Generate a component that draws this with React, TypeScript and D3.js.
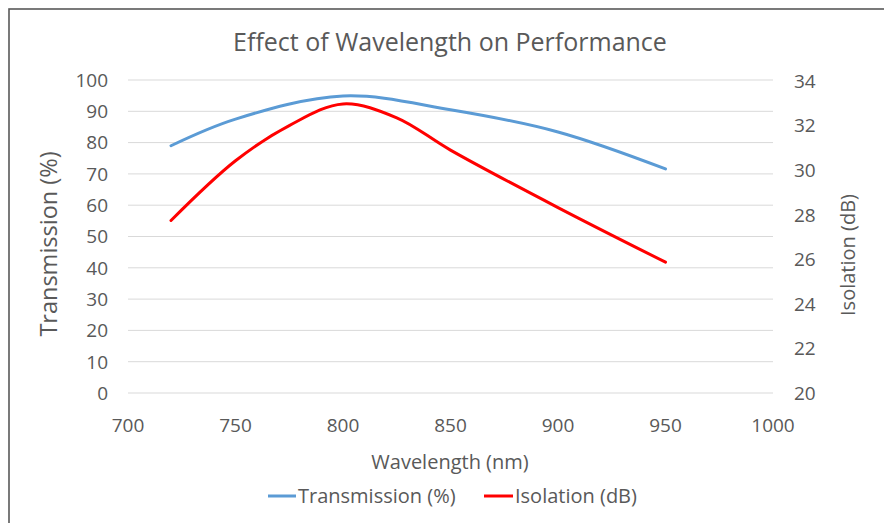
import React from "react";
import * as d3 from "d3";

const transWavelengths = [720, 750, 800, 850, 900, 950];
const transmission = [79.0, 87.5, 94.9, 90.5, 83.4, 71.6];
const isoWavelengths = [720, 750, 775, 800, 825, 850, 900, 950];
const isolation = [27.74, 30.42, 32.0, 32.97, 32.35, 30.9, 28.32, 25.87];

const xTicks = [700, 750, 800, 850, 900, 950, 1000];
const leftTicks = [0, 10, 20, 30, 40, 50, 60, 70, 80, 90, 100];
const rightTicks = [20, 22, 24, 26, 28, 30, 32, 34];

const TITLE = "Effect of Wavelength on Performance";
const X_LABEL = "Wavelength (nm)";
const Y_LEFT_LABEL = "Transmission (%)";
const Y_RIGHT_LABEL = "Isolation (dB)";
const SERIES_NAMES = ["Transmission (%)", "Isolation (dB)"];

const W = 884;
const H = 523;
const FONT = "'Open Sans', 'Noto Sans', sans-serif";
const TEXT = "#595959";
const BLUE = "#5B9BD5";
const RED = "#FF0000";

export default function App() {
  const x = d3.scaleLinear().domain([700, 1000]).range([128, 773]);
  const yL = d3.scaleLinear().domain([0, 100]).range([393, 80]);
  const yR = d3.scaleLinear().domain([20, 34]).range([393, 81]);

  const tData = transWavelengths.map((w, i) => [w, transmission[i]] as [number, number]);
  const iData = isoWavelengths.map((w, i) => [w, isolation[i]] as [number, number]);

  const lineL = d3
    .line<[number, number]>()
    .x((d) => x(d[0]))
    .y((d) => yL(d[1]))
    .curve(d3.curveCatmullRom.alpha(0.5));
  const lineR = d3
    .line<[number, number]>()
    .x((d) => x(d[0]))
    .y((d) => yR(d[1]))
    .curve(d3.curveCatmullRom.alpha(0.5));

  return (
    <svg
      width={W}
      height={H}
      style={{ position: "absolute", left: 0, top: 0, background: "#fff" }}
      fontFamily={FONT}
    >
      <rect x={0} y={0} width={W} height={H} fill="#fff" />
      <rect x={9} y={9} width={W + 20} height={H + 20} fill="none" stroke="#595959" strokeWidth={1.6} />
      <text x={450} y={51} textAnchor="middle" fontSize={25} fill={TEXT}>
        {TITLE}
      </text>
      {leftTicks.map((t) => (
        <g key={"l" + t}>
          <line x1={x(700)} x2={x(1000)} y1={yL(t)} y2={yL(t)} stroke="#d9d9d9" strokeWidth={1} />
          <text x={108} y={yL(t)} dy="0.36em" textAnchor="end" fontSize={19} fill={TEXT}>
            {t}
          </text>
        </g>
      ))}
      {rightTicks.map((t) => (
        <text key={"r" + t} x={794} y={yR(t)} dy="0.36em" textAnchor="start" fontSize={19} fill={TEXT}>
          {t}
        </text>
      ))}
      {xTicks.map((t) => (
        <text key={"x" + t} x={x(t)} y={432} textAnchor="middle" fontSize={19} fill={TEXT}>
          {t}
        </text>
      ))}
      <path d={lineL(tData) || ""} fill="none" stroke={BLUE} strokeWidth={3} strokeLinecap="round" />
      <path d={lineR(iData) || ""} fill="none" stroke={RED} strokeWidth={3} strokeLinecap="round" />
      <text x={450} y={469} textAnchor="middle" fontSize={20} fill={TEXT}>
        {X_LABEL}
      </text>
      <text
        transform={`translate(57,244) rotate(-90)`}
        textAnchor="middle"
        fontSize={23.5}
        fill={TEXT}
      >
        {Y_LEFT_LABEL}
      </text>
      <text
        transform={`translate(855,255) rotate(-90)`}
        textAnchor="middle"
        fontSize={20}
        fill={TEXT}
      >
        {Y_RIGHT_LABEL}
      </text>
      <line x1={268} x2={296} y1={496} y2={496} stroke={BLUE} strokeWidth={3} />
      <text x={298} y={503} fontSize={20} fill={TEXT}>
        {SERIES_NAMES[0]}
      </text>
      <line x1={484} x2={513} y1={496} y2={496} stroke={RED} strokeWidth={3} />
      <text x={515} y={503} fontSize={20} fill={TEXT}>
        {SERIES_NAMES[1]}
      </text>
    </svg>
  );
}
